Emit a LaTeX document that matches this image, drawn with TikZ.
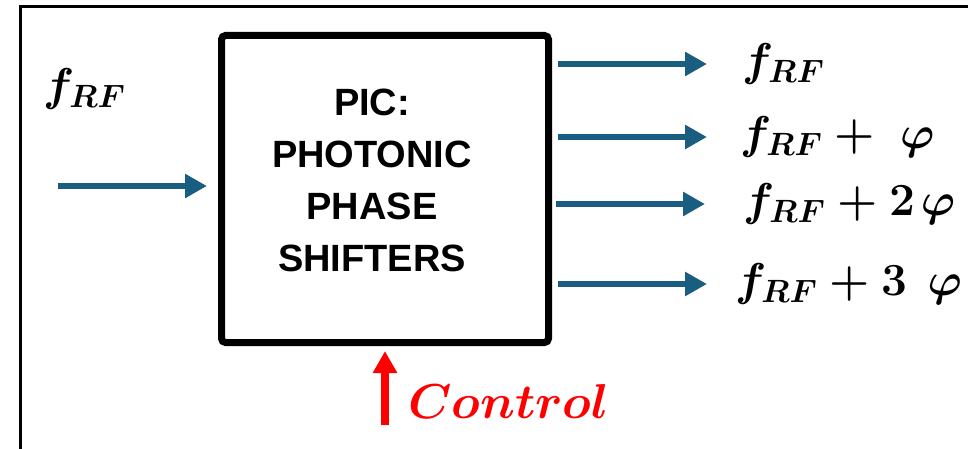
\RequirePackage{fix-cm}
\documentclass[tikz,border=0pt]{standalone}
\usepackage{fontspec}
\setsansfont{Liberation Sans}
\usetikzlibrary{arrows.meta}
\definecolor{arrowblue}{RGB}{25,94,128}
\tikzset{
 frame/.style={line width=3pt, black},
 picbox/.style={draw, line width=7pt, rounded corners=4pt, minimum width=327pt, minimum height=307pt, inner sep=0pt},
 boxtext/.style={font=\sffamily\bfseries\fontsize{38}{52}\selectfont, align=center, inner sep=0pt},
 sig/.style={arrowblue, line width=6.5pt, -{Triangle[length=22pt,width=23pt]}},
 ctrl/.style={red, line width=7.5pt, -{Triangle[length=22pt,width=23pt]}},
 freq/.style={font=\fontsize{46}{54}\selectfont\boldmath, inner sep=0pt, anchor=base west},
 ctrltext/.style={font=\fontsize{49}{58}\selectfont\boldmath, text=red, inner sep=0pt, anchor=base west},
}
\begin{document}
\begin{tikzpicture}[x=1pt,y=-1pt]
\useasboundingbox[fill=white] (0,0) rectangle (968,449);
% outer frame (top and left edges visible)
\draw[frame] (20.5,449) -- (20.5,6.5) -- (968,6.5);
% main block
\node[picbox] (pic) at (385,189) {};
\node[boxtext] (pictext) at (372,180) {PIC:\\PHOTONIC\\PHASE\\SHIFTERS};
% input
\node[freq] (fin) at (43,101) {$f_{RF}$};
\coordinate (ins) at (58,186);
\coordinate (ine) at (207,186);
\draw[sig] (ins) -- (ine);
% outputs
\coordinate (o1s) at (558,64);  \coordinate (o1e) at (707,64);
\coordinate (o2s) at (558,137); \coordinate (o2e) at (707,137);
\coordinate (o3s) at (556,204); \coordinate (o3e) at (705,204);
\coordinate (o4s) at (558,284); \coordinate (o4e) at (707,284);
\draw[sig] (o1s) -- (o1e);
\draw[sig] (o2s) -- (o2e);
\draw[sig] (o3s) -- (o3e);
\draw[sig] (o4s) -- (o4e);
\node[freq] (l1) at (742,75.5)  {$f_{RF}$};
\node[freq] (l2) at (740,148.5) {$f_{RF}+\ \varphi$};
\node[freq] (l3) at (743,215.5) {$f_{RF}+2\mkern2mu\varphi$};
\node[freq] (l4) at (735,295.5) {$f_{RF}+3\mkern7mu\varphi$};
% control
\coordinate (cs) at (385,425);
\coordinate (ce) at (385,351);
\draw[ctrl] (cs) -- (ce);
\node[ctrltext] (ctl) at (408,418) {$Control$};
\end{tikzpicture}
\end{document}
